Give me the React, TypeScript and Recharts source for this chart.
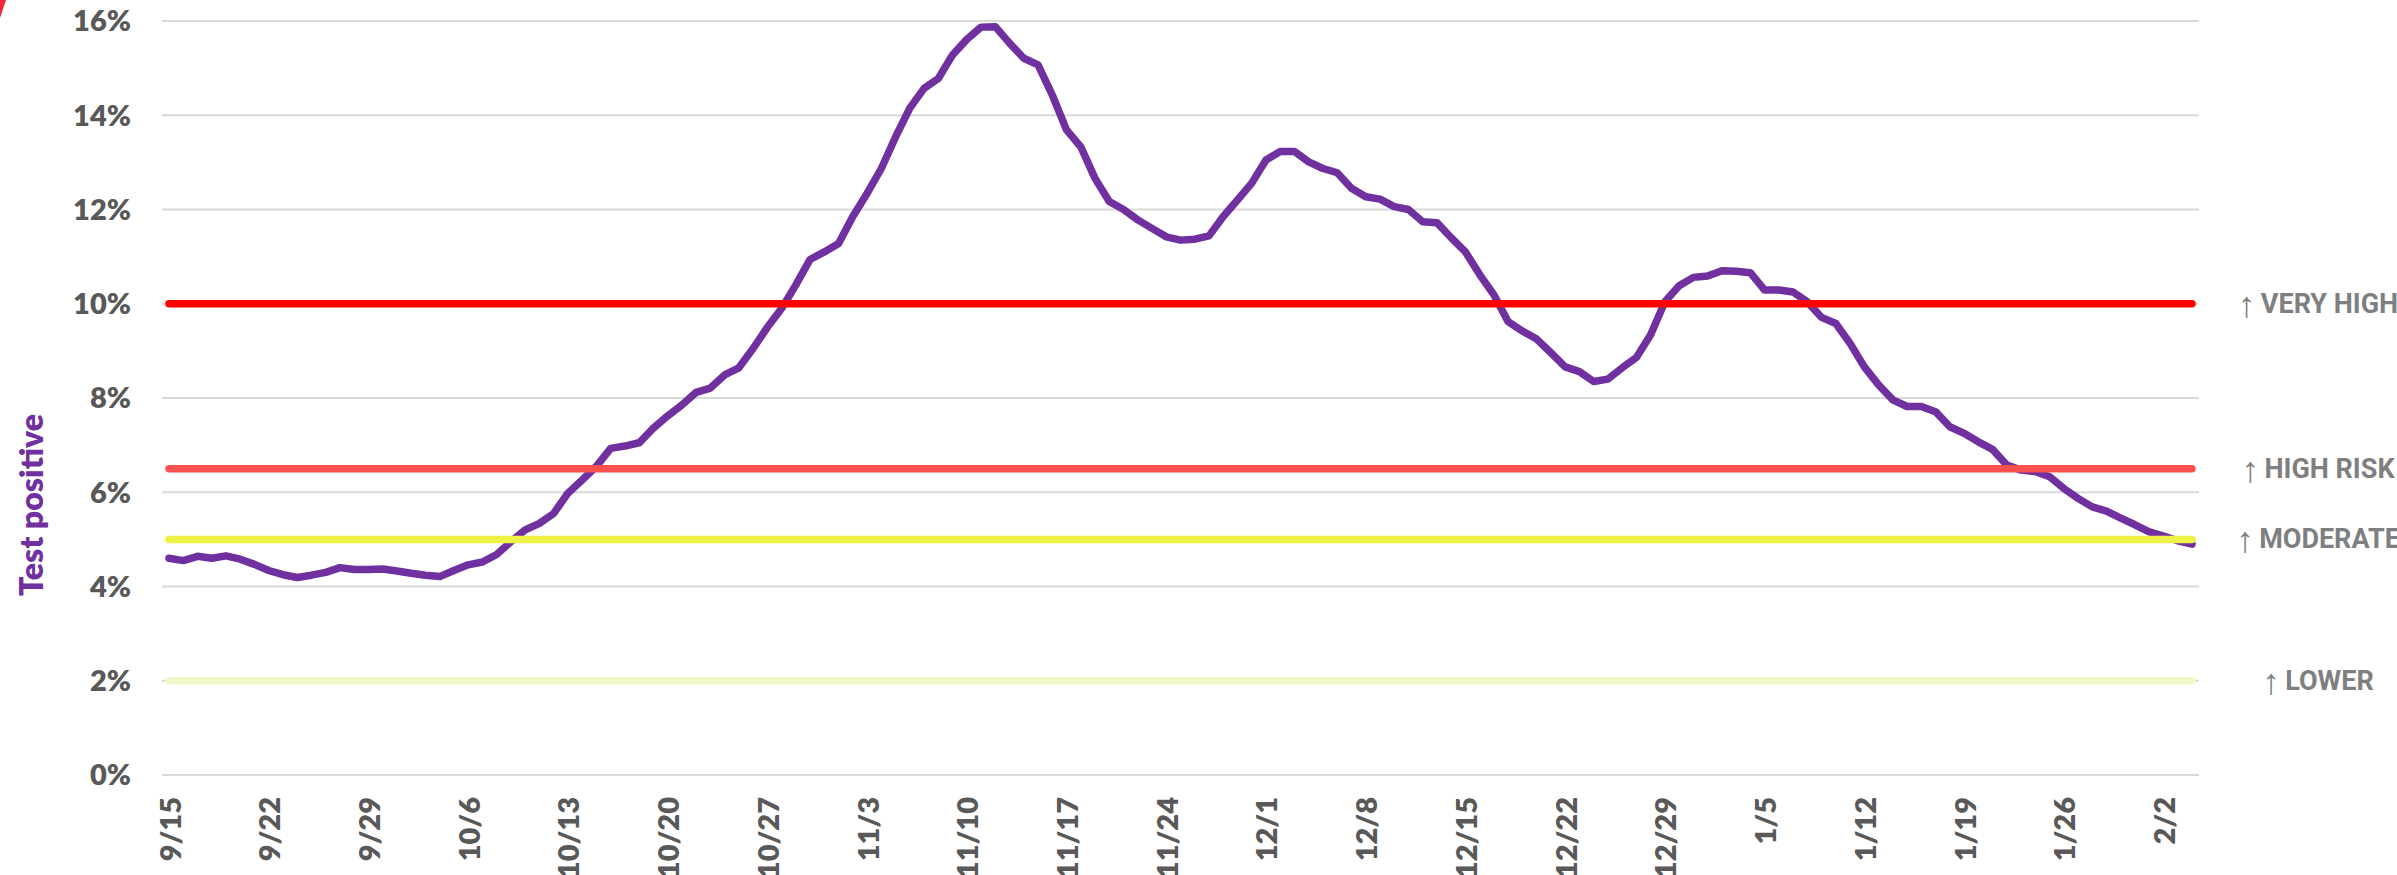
import React from 'react';
import { LineChart, Line, XAxis, YAxis, CartesianGrid, ReferenceLine } from 'recharts';

// daily categories 9/15 .. 2/4
const monthSpans: [number, number, number][] = [
  [9, 15, 30], [10, 1, 31], [11, 1, 30], [12, 1, 31], [1, 1, 31], [2, 1, 4],
];
const days = monthSpans.flatMap(([m, a, b]) =>
  Array.from({ length: b - a + 1 }, (_, k) => `${m}/${a + k}`)
);

// 7-day test positivity, %
const testPositive = [
  4.60, 4.55, 4.64, 4.60, 4.65, 4.58, 4.47, 4.34, 4.25, 4.19,
  4.24, 4.30, 4.40, 4.36, 4.36, 4.37, 4.33, 4.28, 4.24, 4.21,
  4.34, 4.46, 4.52, 4.68, 4.95, 5.20, 5.34, 5.55, 5.98, 6.26,
  6.55, 6.93, 6.98, 7.05, 7.36, 7.62, 7.85, 8.12, 8.21, 8.49,
  8.64, 9.05, 9.50, 9.90, 10.40, 10.94, 11.10, 11.28, 11.85, 12.34,
  12.87, 13.54, 14.15, 14.57, 14.78, 15.28, 15.61, 15.87, 15.88, 15.53,
  15.21, 15.07, 14.43, 13.69, 13.33, 12.66, 12.17, 12.00, 11.78, 11.60,
  11.42, 11.35, 11.37, 11.44, 11.85, 12.20, 12.56, 13.05, 13.23, 13.23,
  13.01, 12.87, 12.78, 12.45, 12.27, 12.22, 12.06, 12.00, 11.74, 11.72,
  11.40, 11.10, 10.62, 10.19, 9.62, 9.42, 9.25, 8.96, 8.66, 8.56,
  8.35, 8.40, 8.64, 8.86, 9.34, 10.04, 10.38, 10.56, 10.59, 10.70,
  10.69, 10.66, 10.29, 10.29, 10.25, 10.04, 9.71, 9.58, 9.16, 8.66,
  8.28, 7.96, 7.82, 7.82, 7.71, 7.39, 7.25, 7.07, 6.91, 6.58,
  6.47, 6.44, 6.33, 6.08, 5.87, 5.69, 5.60, 5.45, 5.31, 5.16,
  5.07, 4.97, 4.90,
];

const dateTicks = [
  '9/15', '9/22', '9/29', '10/6', '10/13', '10/20', '10/27', '11/3', '11/10', '11/17',
  '11/24', '12/1', '12/8', '12/15', '12/22', '12/29', '1/5', '1/12', '1/19', '1/26', '2/2',
];
const yTicks = [0, 2, 4, 6, 8, 10, 12, 14, 16];

const riskThresholds = [10, 6.5, 5, 2];
const riskLabels = ['VERY HIGH', 'HIGH RISK', 'MODERATE', 'LOWER'];
const riskColors = ['#FF0000', '#FF5050', '#EEF146', '#F4F8C8'];

const data = days.map((d, i) => ({ date: d, positive: testPositive[i] }));

const TICK_FONT = 'Lato, "Open Sans", sans-serif';

const DateTick = (props: any) => {
  const { x, y, payload } = props;
  return (
    <g transform={`translate(${x},${y})`}>
      <text
        transform="rotate(-90)"
        textAnchor="end"
        dominantBaseline="central"
        fill="#595959"
        fontFamily={TICK_FONT}
        fontWeight={800}
        fontSize={29}
      >
        {payload.value}
      </text>
    </g>
  );
};

const ZoneLabel = (props: any) => {
  const { viewBox, text } = props;
  return (
    <text
      x={viewBox.x + viewBox.width + 126}
      y={viewBox.y}
      textAnchor="middle"
      dominantBaseline="central"
      fill="#7F7F7F"
      fontFamily="Roboto, sans-serif"
      fontWeight={700}
      fontSize={27}
    >
      <tspan fontFamily="'Liberation Sans', sans-serif" fontWeight={400} fontSize={36}>↑</tspan>
      <tspan dx={5}>{text}</tspan>
    </text>
  );
};

const AxisTitle = () => (
  <text
    transform="translate(30,505) rotate(-90)"
    textAnchor="middle"
    dominantBaseline="central"
    fill="#7030A0"
    fontFamily={TICK_FONT}
    fontWeight={800}
    fontSize={32}
  >
    Test positive
  </text>
);

export default function App() {
  return (
    <div style={{ position: 'absolute', left: 0, top: 0, width: 2397, height: 875, background: '#fff' }}>
      <svg width={20} height={20} style={{ position: 'absolute', left: 0, top: 0 }}>
        <polygon points="0,0 6,0 0,18" fill="#EE2A3A" />
      </svg>
      <LineChart
        width={2397}
        height={875}
        data={data}
        margin={{ top: 21, right: 198, bottom: 0, left: 0 }}
      >
        <CartesianGrid vertical={false} stroke="#D9D9D9" strokeWidth={2} />
        <XAxis
          dataKey="date"
          ticks={dateTicks}
          interval={0}
          height={100}
          padding={{ left: 7, right: 7 }}
          axisLine={false}
          tickLine={false}
          tickSize={0}
          tickMargin={22}
          tick={<DateTick />}
        />
        <YAxis
          domain={[0, 16]}
          ticks={yTicks}
          width={162}
          axisLine={false}
          tickLine={false}
          tickSize={0}
          tickMargin={31}
          tickFormatter={(v: number) => `${v}%`}
          tick={{ fill: '#595959', fontFamily: TICK_FONT, fontWeight: 800, fontSize: 29 }}
          label={<AxisTitle />}
        />
        <Line
          type="linear"
          dataKey="positive"
          stroke="#7030A0"
          strokeWidth={7.5}
          strokeLinejoin="round"
          strokeLinecap="round"
          dot={false}
          activeDot={false}
          isAnimationActive={false}
        />
        {riskThresholds.map((t, i) => (
          <ReferenceLine
            key={riskLabels[i]}
            segment={[
              { x: days[0], y: t },
              { x: days[days.length - 1], y: t },
            ]}
            stroke={riskColors[i]}
            strokeWidth={7.5}
            strokeLinecap="round"
            label={(p: any) => <ZoneLabel {...p} text={riskLabels[i]} />}
          />
        ))}
      </LineChart>
    </div>
  );
}
